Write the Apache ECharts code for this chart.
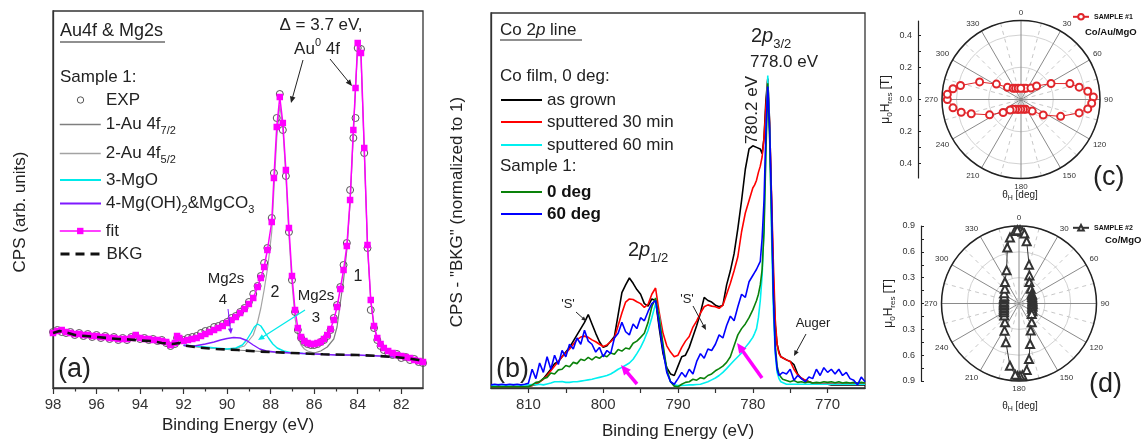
<!DOCTYPE html>
<html><head><meta charset="utf-8">
<script src="https://cdn.jsdelivr.net/npm/echarts@6/dist/echarts.min.js"></script>
<style>html,body{margin:0;padding:0;background:#fff}#c{width:1144px;height:440px}</style>
</head><body><div id="c"></div>
<script>
// ================= DATA =================
// ---- Panel (a): Au4f & Mg2s, binding energy (eV) and CPS (arb. units) ----
const aEnergy = [98.0,97.8,97.6,97.4,97.2,97.0,96.8,96.6,96.4,96.2,96.0,95.8,95.6,95.4,95.2,95.0,94.8,94.6,94.4,94.2,94.0,93.8,93.6,93.4,93.2,93.0,92.8,92.6,92.4,92.3,92.2,92.0,91.8,91.6,91.4,91.2,91.0,90.8,90.6,90.4,90.2,90.0,89.8,89.6,89.4,89.2,89.0,88.8,88.6,88.45,88.3,88.15,87.95,87.85,87.72,87.58,87.44,87.3,87.16,87.02,86.88,86.75,86.6,86.45,86.3,86.15,86.0,85.85,85.7,85.55,85.4,85.25,85.1,84.95,84.8,84.65,84.5,84.35,84.2,84.1,84.0,83.85,83.7,83.55,83.4,83.25,83.1,82.95,82.8,82.6,82.4,82.2,82.0,81.8,81.6,81.4,81.2,81.0];
const aExp = [56,58,56,55,56,53,55,52,54,51,53,50,52,49,51,48,50,48,51,52,49,50,48,49,47,48,45,42,44,50,49,48,50,51,52,55,57,58,61,62,64,66,70,72,76,80,86,94,102,112,125,140,170,215,270,294,258,212,156,108,76,58,50,46,44,43,43,44,46,48,52,58,70,83,101,123,145,198,250,270,340,339,235,140,78,60,48,42,38,35,33,34,30,31,28,29,26,25];
const aFit = [55,57,58,56,55,54,54,53,53,52,52,51,51,50,50,49,49,49,50,53,50,49,49,48,48,47,46,43,45,52,50,47,48,49,50,52,54,56,58,60,62,65,68,71,75,79,84,90,101,110,121,138,166,210,261,291,265,218,160,112,78,60,51,47,45,44,44,45,46,49,53,59,68,81,99,118,142,188,258,300,345,335,240,143,88,62,50,44,40,37,35,33,32,31,30,28,27,26];
const aAu72Energy = [92,90,88,87,86.5,86.0,85.7,85.4,85.1,84.95,84.8,84.65,84.5,84.35,84.2,84.1,84.0,83.85,83.7,83.55,83.4,83.25,83.1,82.95,82.8,82.6,82.4,82.0,81.5,81.0];
const aAu72 = [42.5,38.5,36,35,34.5,35,37,41,49,61,85,108,138,185,255,300,342,332,238,142,87,61,49,43,39,36,34,31,29,26];
const aAu52Energy = [92,91,90,89.6,89.2,88.8,88.6,88.45,88.3,88.12,87.95,87.85,87.72,87.58,87.44,87.3,87.16,87.02,86.88,86.75,86.6,86.45,86.3,86.0,85.5,85.0,84.0,83.0,82.0,81.0];
const aAu52 = [42.5,40,39,39.5,42,53,66,80,98,123,156,198,250,283,260,212,153,105,70,52,43,39,37,35,34,33,32.5,32,30.5,27];
const aMgOEnergy = [92,91,90,89.6,89.3,89.1,88.9,88.75,88.6,88.45,88.3,88.1,87.9,87.7,87.4,87.1,86.5,86.0];
const aMgO = [43,41,39,40,43,48,55,61,64,62,57,50,44,40,37,35.5,34.5,34];
const aMgOHEnergy = [92,91.5,91,90.6,90.3,90,89.7,89.4,89.1,88.8,88.5,88.2,87.8,87,86,85,84,83,82,81];
const aMgOH = [42.5,42,44,46,48,49.5,50.5,50,47.5,43,39,37,36,35,34,33,33,32,30.5,27];
const aBkgEnergy = [98,97.7,97.3,97,96.5,96,95.5,95,94.5,94,93.5,93,92.5,92.2,92,91.3,90.5,89.5,88.6,87,85.6,84,83,82.2,81.7,81.2,81];
const aBkg = [55,57,55,53,52,51,50,49,48.5,47.5,47,45,44,45,42.5,40.5,39,38,36.5,35,33.7,33,32,30.7,29.7,28,27];
const aTickLabels = [98,96,94,92,90,88,86,84,82];
const aMinorTicks = [97,95,93,91,89,87,85,83];

// ---- Panel (b): Co 2p line, CPS - "BKG" normalized to 1 ----
const bEnergy = [815,814.5,814,813.5,813,812.5,812,811.5,811,810.5,810,809.5,809,808.5,808,807.5,807,806.5,806,805.5,805,804.5,804,803.5,803,802.5,802,801.5,801,800.5,800,799.5,799,798.5,798,797.5,797,796.5,796,795.5,795,794.5,794,793.5,793,792.5,792,791.5,791,790.5,790,789.5,789,788.5,788,787.5,787,786.5,786,785.5,785,784.5,784,783.5,783,782.5,782,781.5,781,780.5,780,779.75,779.5,779.25,779,778.75,778.5,778.25,778,777.75,777.5,777.25,777,776.75,776.5,776.25,776,775.5,775,774.5,774,773.5,773,772.5,772,771.5,771,770.5,770,769.5,769,768.5,768,767.5,767,766.5,766,765.5,765];
const bAsGrown = [0.005,0.005,0.005,0.005,0.005,0.005,0.005,0.005,0.005,0.005,0.006,0.008,0.012,0.02,0.03,0.045,0.06,0.078,0.085,0.1,0.115,0.13,0.15,0.17,0.19,0.21,0.235,0.205,0.175,0.148,0.13,0.135,0.15,0.165,0.235,0.305,0.33,0.352,0.335,0.315,0.3,0.27,0.262,0.285,0.28,0.19,0.11,0.065,0.045,0.04,0.07,0.1,0.105,0.13,0.165,0.2,0.24,0.29,0.28,0.275,0.265,0.26,0.265,0.33,0.375,0.43,0.51,0.6,0.7,0.765,0.775,0.772,0.77,0.768,0.765,0.75,0.8,0.92,0.99,0.85,0.6,0.35,0.2,0.14,0.115,0.1,0.095,0.09,0.085,0.075,0.045,0.03,0.025,0.02,0.015,0.012,0.012,0.012,0.012,0.01,0.01,0.01,0.01,0.01,0.01,0.01,0.01,0.01,0.01];
const bSput30 = [0.005,0.005,0.005,0.005,0.005,0.005,0.005,0.005,0.005,0.005,0.006,0.008,0.012,0.02,0.028,0.04,0.055,0.07,0.085,0.1,0.112,0.125,0.14,0.155,0.163,0.166,0.162,0.154,0.148,0.14,0.133,0.138,0.148,0.16,0.2,0.24,0.275,0.285,0.283,0.276,0.27,0.258,0.268,0.3,0.32,0.24,0.175,0.135,0.115,0.1,0.105,0.13,0.15,0.165,0.195,0.215,0.24,0.26,0.266,0.262,0.26,0.255,0.265,0.3,0.335,0.375,0.42,0.5,0.56,0.6,0.64,0.65,0.665,0.69,0.71,0.74,0.8,0.9,0.985,0.84,0.62,0.4,0.22,0.14,0.11,0.1,0.095,0.09,0.085,0.06,0.042,0.032,0.025,0.02,0.016,0.014,0.014,0.014,0.014,0.014,0.014,0.014,0.014,0.014,0.014,0.014,0.014,0.014,0.014];
const bSput60 = [0.01,0.009,0.011,0.01,0.009,0.01,0.011,0.01,0.009,0.01,0.01,0.011,0.01,0.012,0.01,0.013,0.016,0.02,0.02,0.021,0.018,0.018,0.02,0.02,0.022,0.024,0.026,0.028,0.031,0.034,0.037,0.04,0.045,0.052,0.06,0.066,0.073,0.08,0.092,0.11,0.13,0.155,0.185,0.225,0.27,0.23,0.13,0.055,0.02,0.01,0.008,0.008,0.009,0.01,0.01,0.011,0.012,0.016,0.02,0.026,0.032,0.04,0.05,0.062,0.075,0.088,0.1,0.112,0.13,0.145,0.162,0.175,0.19,0.225,0.28,0.36,0.52,0.78,1.0,0.82,0.5,0.25,0.11,0.05,0.03,0.02,0.015,0.012,0.012,0.012,0.012,0.012,0.012,0.012,0.012,0.012,0.012,0.012,0.012,0.012,0.012,0.012,0.012,0.012,0.012,0.012,0.012,0.012,0.012];
const bDeg0 = [0.004,0.004,0.004,0.004,0.004,0.004,0.004,0.004,0.004,0.004,0.004,0.01,0.018,0.02,0.03,0.034,0.048,0.045,0.058,0.06,0.072,0.068,0.082,0.078,0.092,0.088,0.098,0.09,0.1,0.095,0.105,0.1,0.112,0.108,0.123,0.118,0.128,0.125,0.143,0.15,0.162,0.175,0.21,0.26,0.288,0.22,0.14,0.06,0.02,0.006,0.004,0.012,0.018,0.02,0.028,0.025,0.033,0.03,0.04,0.045,0.055,0.062,0.07,0.082,0.1,0.135,0.17,0.19,0.205,0.225,0.25,0.265,0.28,0.3,0.33,0.38,0.5,0.75,0.975,0.8,0.55,0.3,0.14,0.07,0.045,0.035,0.028,0.024,0.02,0.024,0.018,0.02,0.017,0.02,0.016,0.018,0.017,0.02,0.018,0.02,0.017,0.02,0.016,0.018,0.016,0.018,0.016,0.018,0.016];
const bDeg60 = [0.01,0.012,0.01,0.012,0.01,0.012,0.01,0.012,0.01,0.012,0.015,0.06,0.03,0.08,0.05,0.1,0.06,0.105,0.075,0.12,0.1,0.14,0.125,0.16,0.14,0.185,0.15,0.14,0.115,0.13,0.1,0.12,0.11,0.16,0.175,0.21,0.18,0.17,0.205,0.19,0.225,0.215,0.245,0.27,0.28,0.2,0.12,0.05,0.02,0.012,0.03,0.05,0.035,0.06,0.045,0.085,0.11,0.095,0.125,0.12,0.14,0.17,0.16,0.2,0.23,0.215,0.26,0.3,0.29,0.34,0.36,0.37,0.38,0.385,0.405,0.48,0.6,0.82,0.965,0.83,0.6,0.3,0.12,0.06,0.04,0.035,0.05,0.045,0.06,0.025,0.04,0.03,0.02,0.035,0.03,0.06,0.04,0.065,0.05,0.06,0.045,0.06,0.04,0.05,0.03,0.025,0.01,0.035,0.02];
const bTickLabels = [810,800,790,780,770];
const bTicks = [810,805,800,795,790,785,780,775,770];

// ---- Panel (c): SAMPLE #1 Co/Au/MgO, theta_H (deg) and mu0Hres (T) ----
const cTheta = [13,23,41,49,62,72,78,83,88,93,98,103,113,125,136,154,166,181,196,209,219,226,234,244,254,258,263,270,274,279,283,293,302,312,325,334,346,359];
const cHres = [0.071,0.076,0.094,0.128,0.211,0.319,0.369,0.417,0.449,0.439,0.418,0.37,0.267,0.168,0.1,0.068,0.063,0.061,0.064,0.07,0.078,0.094,0.137,0.217,0.321,0.379,0.425,0.457,0.458,0.427,0.385,0.279,0.18,0.113,0.085,0.077,0.072,0.07];
const cTickLabels = [-0.4,-0.2,0,0.2,0.4];
const cTicks = [-0.4,-0.3,-0.2,-0.1,0,0.1,0.2,0.3,0.4];

// ---- Panel (d): SAMPLE #2 Co/MgO ----
const dTheta = [0.8,2.7,4.4,7,14.5,20.3,25.8,38.5,52.7,58,64,70,77.3,82,87.1,92,98.5,104,112.3,120,129.2,145.8,156.6,164.7,169.8,173.4,177.3,179.2,181.1,183,188.3,198.6,208,216.9,230.7,240,245,250.4,256,262.4,267,272.5,278,285,290,296.6,305,316.3,326.7,339.5,348.2,352.2,356.8,358.7];
const dHres = [0.852,0.834,0.816,0.729,0.466,0.348,0.277,0.219,0.186,0.18,0.169,0.165,0.16,0.157,0.156,0.156,0.157,0.16,0.164,0.18,0.191,0.263,0.343,0.488,0.656,0.776,0.834,0.841,0.841,0.83,0.731,0.476,0.357,0.272,0.221,0.202,0.193,0.186,0.18,0.177,0.175,0.175,0.177,0.181,0.185,0.191,0.21,0.237,0.298,0.411,0.664,0.774,0.842,0.852];
const dTickLabels = [-0.9,-0.6,-0.3,0,0.3,0.6,0.9];
const dTicks = [-0.9,-0.75,-0.6,-0.45,-0.3,-0.15,0,0.15,0.3,0.45,0.6,0.75,0.9];

// ================= HELPERS =================
const FF = '"Liberation Sans", Arial, Helvetica, sans-serif';
const pairs = (xs, ys) => xs.map((x, i) => [x, ys[i]]);
function T(x, y, text, o, el) {
  return Object.assign({type: 'text', z: 100, x: x, y: y, silent: true,
    style: Object.assign({text: text, fontFamily: FF, fontSize: 17, fill: '#222', align: 'left', verticalAlign: 'middle'}, o || {})}, el || {});
}
function arrow(x1, y1, x2, y2, color, w, head) {
  const a = Math.atan2(y2 - y1, x2 - x1), s = 0.42;
  const bx = x2 - head * 0.75 * Math.cos(a), by = y2 - head * 0.75 * Math.sin(a);
  return [
    {type: 'line', z: 100, silent: true, shape: {x1: x1, y1: y1, x2: bx, y2: by}, style: {stroke: color, lineWidth: w}},
    {type: 'polygon', z: 100, silent: true, shape: {points: [[x2, y2], [x2 - head * Math.cos(a - s), y2 - head * Math.sin(a - s)], [x2 - head * Math.cos(a + s), y2 - head * Math.sin(a + s)]]}, style: {fill: color}}
  ];
}
function hline(x1, x2, y, w) {
  return {type: 'line', z: 100, silent: true, shape: {x1: x1, y1: y, x2: x2, y2: y}, style: {stroke: '#222', lineWidth: w || 1.2}};
}
const richSub17 = {sub: {fontFamily: FF, fontSize: 11, verticalAlign: 'bottom', padding: [13, 0, 0, 0]}};

// ================= COLORS =================
const MAG = '#ff00ff', CYAN = '#00eaea', PURP = '#7f19ff';

// ================= LEGENDS =================
const legends = [];
function leg(name, left, top, o) {
  legends.push(Object.assign({data: [name], left: left, top: top, padding: 0, itemGap: 0, selectedMode: false,
    itemWidth: 41, itemHeight: 8,
    textStyle: {fontFamily: FF, fontSize: 17, color: '#222', rich: richSub17}}, o || {}));
}
leg('EXP', 59, 100 - 8.5, {itemStyle: {color: '#fff', borderColor: '#555', borderWidth: 1}});
leg('1-Au 4f7/2', 59, 128 - 12, {formatter: () => '1-Au 4f{sub|7/2}', lineStyle: {width: 1.5}, itemStyle: {opacity: 0}});
leg('2-Au 4f5/2', 59, 157 - 12, {formatter: () => '2-Au 4f{sub|5/2}', lineStyle: {width: 1.5}, itemStyle: {opacity: 0}});
leg('3-MgO', 59, 180 - 8.5, {lineStyle: {width: 2}, itemStyle: {opacity: 0}});
leg('4-Mg(OH)2&MgCO3', 59, 207 - 12, {formatter: () => '4-Mg(OH){sub|2}&MgCO{sub|3}', lineStyle: {width: 2}, itemStyle: {opacity: 0}});
leg('fit', 59, 231 - 8.5, {lineStyle: {width: 1.5}});
leg('BKG', 59, 254 - 8.5, {lineStyle: {width: 3, type: [9, 6]}, itemStyle: {opacity: 0}});
const boldTS = {fontFamily: FF, fontSize: 17, color: '#111', fontWeight: 'bold'};
leg('as grown', 500, 100 - 8.5, {lineStyle: {width: 2}, itemStyle: {opacity: 0}});
leg('sputtered 30 min', 500, 122 - 8.5, {lineStyle: {width: 2}, itemStyle: {opacity: 0}});
leg('sputtered 60 min', 500, 145 - 8.5, {lineStyle: {width: 2}, itemStyle: {opacity: 0}});
leg('0 deg', 500, 192 - 8.5, {lineStyle: {width: 2}, itemStyle: {opacity: 0}, textStyle: boldTS});
leg('60 deg', 500, 214 - 8.5, {lineStyle: {width: 2}, itemStyle: {opacity: 0}, textStyle: boldTS});
leg('SAMPLE #1', 1072, 13, {itemWidth: 16, itemHeight: 7, textStyle: {fontFamily: FF, fontSize: 7, fontWeight: 'bold', color: '#111'}});
leg('SAMPLE #2', 1072, 224, {itemWidth: 16, itemHeight: 7, textStyle: {fontFamily: FF, fontSize: 7, fontWeight: 'bold', color: '#111'}});

// ================= AXES =================
const axLine = {show: true, onZero: false, lineStyle: {color: '#333', width: 1.3}};
const noSplit = {show: false};
const xAxes = [
  {gridIndex: 0, type: 'value', inverse: true, min: 81, max: 98, axisLine: axLine,
    axisTick: {show: true, length: 6, customValues: aTickLabels, lineStyle: {color: '#333', width: 1.2}},
    axisLabel: {customValues: aTickLabels, fontSize: 15, color: '#333', margin: 9, fontFamily: FF},
    splitLine: noSplit, name: 'Binding Energy (eV)', nameLocation: 'middle', nameGap: 28,
    nameTextStyle: {fontSize: 17, color: '#222', fontFamily: FF}},
  {gridIndex: 0, type: 'value', inverse: true, min: 81, max: 98, position: 'bottom', axisLine: {show: false},
    axisTick: {show: true, length: 3.5, customValues: aMinorTicks, lineStyle: {color: '#333', width: 1.2}},
    axisLabel: {show: false}, splitLine: noSplit},
  {gridIndex: 1, type: 'value', inverse: true, min: 765, max: 815, axisLine: axLine,
    axisTick: {show: true, length: 5, customValues: bTicks, lineStyle: {color: '#333', width: 1.2}},
    axisLabel: {customValues: bTickLabels, fontSize: 15, color: '#333', margin: 9, fontFamily: FF},
    splitLine: noSplit, name: 'Binding Energy (eV)', nameLocation: 'middle', nameGap: 35,
    nameTextStyle: {fontSize: 17, color: '#222', fontFamily: FF}},
  {gridIndex: 2, type: 'value', show: false},
  {gridIndex: 3, type: 'value', show: false}
];
const muName = '{n|μ}{s|0}{n|H}{s|res}{n| [T]}';
const muRich = {n: {fontFamily: FF, fontSize: 12, color: '#222'}, s: {fontFamily: FF, fontSize: 8, color: '#222', verticalAlign: 'bottom', padding: [9, 0, 0, 0]}};
const yAxes = [
  {gridIndex: 0, type: 'value', min: 0, max: 377, axisLine: axLine, axisTick: {show: false}, axisLabel: {show: false}, splitLine: noSplit},
  {gridIndex: 1, type: 'value', min: 0, max: 1.2, axisLine: axLine, axisTick: {show: false}, axisLabel: {show: false}, splitLine: noSplit},
  {gridIndex: 2, type: 'value', min: -0.49, max: 0.49, axisLine: {show: true, onZero: false, lineStyle: {color: '#222', width: 1.2}},
    axisTick: {show: true, inside: true, length: 3, customValues: cTicks, lineStyle: {color: '#222'}},
    axisLabel: {customValues: cTickLabels, formatter: v => Math.abs(v).toFixed(1), fontSize: 9, color: '#333', margin: 6, fontFamily: FF},
    splitLine: noSplit, name: muName, nameLocation: 'middle', nameRotate: 90, nameGap: 24, nameTextStyle: {rich: muRich}},
  {gridIndex: 3, type: 'value', min: -0.9, max: 0.9, axisLine: {show: true, onZero: false, lineStyle: {color: '#222', width: 1.2}},
    axisTick: {show: true, inside: true, length: 3, customValues: dTicks, lineStyle: {color: '#222'}},
    axisLabel: {customValues: dTickLabels, formatter: v => Math.abs(v).toFixed(1), fontSize: 9, color: '#333', margin: 6, fontFamily: FF},
    splitLine: noSplit, name: muName, nameLocation: 'middle', nameRotate: 90, nameGap: 24, nameTextStyle: {rich: muRich}}
];
function angleAx(idx) {
  return {polarIndex: idx, type: 'value', min: 0, max: 360, interval: 30, startAngle: 90, clockwise: true,
    axisLine: {show: true, lineStyle: {color: '#222', width: 1.5}}, axisTick: {show: false},
    axisLabel: {fontSize: 8, color: '#333', margin: 4, fontFamily: FF, formatter: v => (v === 360 ? '' : String(v))},
    splitLine: {show: true, lineStyle: {color: '#8a8a8a', width: 1}},
    minorTick: {show: false, splitNumber: 2},
    minorSplitLine: {show: true, lineStyle: {color: '#c8c8c8', width: 1, type: [4, 4]}}};
}
function radiusAx(idx, max, interval) {
  return {polarIndex: idx, type: 'value', min: 0, max: max, interval: interval,
    axisLine: {show: false}, axisTick: {show: false}, axisLabel: {show: false},
    splitLine: {show: true, lineStyle: {color: '#d2d2d2', width: 1}}};
}

// ================= SERIES =================
const lineA = (name, xs, ys, color, w, extra) => Object.assign({
  name: name, type: 'line', xAxisIndex: 0, yAxisIndex: 0, data: pairs(xs, ys), symbol: 'none',
  lineStyle: {color: color, width: w}, itemStyle: {color: color}, silent: true}, extra || {});
const lineB = (name, ys, color) => ({
  name: name, type: 'line', xAxisIndex: 2, yAxisIndex: 1, data: pairs(bEnergy, ys), symbol: 'none',
  lineStyle: {color: color, width: 1.6}, itemStyle: {color: color}, silent: true});
const series = [
  lineA('1-Au 4f7/2', aAu72Energy, aAu72, '#7f7f7f', 1.2, {z: 2}),
  lineA('2-Au 4f5/2', aAu52Energy, aAu52, '#a3a3a3', 1.2, {z: 2}),
  lineA('3-MgO', aMgOEnergy, aMgO, CYAN, 1.4, {z: 2}),
  lineA('4-Mg(OH)2&MgCO3', aMgOHEnergy, aMgOH, PURP, 1.4, {z: 2}),
  lineA('EXP', aEnergy, aExp, '#555', 1, {z: 3, symbol: 'circle', symbolSize: 7, showAllSymbol: true,
    lineStyle: {opacity: 0, color: '#555'}, itemStyle: {color: 'rgba(255,255,255,0)', borderColor: '#555', borderWidth: 1}}),
  lineA('fit', aEnergy, aFit, MAG, 1.5, {z: 4, symbol: 'rect', symbolSize: 6.5, showAllSymbol: true}),
  lineA('BKG', aBkgEnergy, aBkg, '#111', 2.6, {z: 5, lineStyle: {color: '#111', width: 2.6, type: [9, 6]}}),
  lineB('as grown', bAsGrown, '#000000'),
  lineB('sputtered 30 min', bSput30, '#ff0000'),
  lineB('sputtered 60 min', bSput60, '#00f0f0'),
  lineB('0 deg', bDeg0, '#0a820a'),
  lineB('60 deg', bDeg60, '#0000ff'),
  {name: 'SAMPLE #1', type: 'line', coordinateSystem: 'polar', polarIndex: 0, z: 5, silent: true,
    data: cHres.map((r, i) => [r, cTheta[i]]), symbol: 'emptyCircle', symbolSize: 7, showAllSymbol: true,
    lineStyle: {color: '#e0262b', width: 1}, itemStyle: {color: '#e0262b', borderWidth: 1.2}},
  {name: 'SAMPLE #2', type: 'line', coordinateSystem: 'polar', polarIndex: 1, z: 5, silent: true,
    data: dHres.map((r, i) => [r, dTheta[i]]), symbol: 'emptyTriangle', symbolSize: 8, showAllSymbol: true,
    lineStyle: {color: '#333', width: 1}, itemStyle: {color: '#333', borderWidth: 1}}
];

// ================= ANNOTATIONS =================
const supRich = {n: {fontFamily: FF, fontSize: 17, fill: '#222'}, sup: {fontFamily: FF, fontSize: 11, verticalAlign: 'top', padding: [0, 0, 12, 0]}};
const pRich20 = {n: {fontFamily: FF, fontSize: 20}, i: {fontFamily: FF, fontSize: 20, fontStyle: 'italic'},
  sub: {fontFamily: FF, fontSize: 13, verticalAlign: 'bottom', padding: [16, 0, 0, 0]}};
let graphic = [];
// axis titles of (a) and (b)
graphic.push(T(20, 212, 'CPS (arb. units)', {align: 'center'}, {rotation: Math.PI / 2}));
graphic.push(T(457, 212, 'CPS - "BKG" (normalized to 1)', {align: 'center'}, {rotation: Math.PI / 2}));
// panel (a)
graphic.push(T(60, 31, 'Au4f & Mg2s', {fontSize: 18}), hline(60, 165, 42));
graphic.push(T(60, 77, 'Sample 1:'));
graphic.push(T(321, 25, 'Δ = 3.7 eV,', {align: 'center'}));
graphic.push(T(317, 49, '{n|Au}{sup|0}{n| 4f}', {align: 'center', rich: supRich}));
graphic = graphic.concat(arrow(303, 60, 291, 103, '#222', 1, 7), arrow(330, 59, 352, 86, '#222', 1, 7));
graphic.push(T(358, 277, '1', {align: 'center', fontSize: 16}), T(275, 293, '2', {align: 'center', fontSize: 16}));
graphic.push(T(226, 279, 'Mg2s', {align: 'center', fontSize: 15}), T(223, 300, '4', {align: 'center', fontSize: 15}));
graphic = graphic.concat(arrow(228, 309, 231, 334, PURP, 1, 6));
graphic.push(T(316, 296, 'Mg2s', {align: 'center', fontSize: 15}), T(316, 318, '3', {align: 'center', fontSize: 15}));
graphic = graphic.concat(arrow(305, 310, 258, 340, CYAN, 1.2, 7));
graphic.push(T(58, 370, '(a)', {fontSize: 27}));
// panel (b)
graphic.push(T(500, 30, 'Co 2{i|p} line', {rich: {i: {fontFamily: FF, fontSize: 17, fontStyle: 'italic'}}}), hline(500, 582, 40));
graphic.push(T(500, 76, 'Co film, 0 deg:'));
graphic.push(T(500, 166, 'Sample 1:'));
graphic.push(T(751, 36, '{n|2}{i|p}{sub|3/2}', {rich: pRich20}));
graphic.push(T(750, 62, '778.0 eV'));
graphic.push(T(752, 110, '780.2 eV', {align: 'center'}, {rotation: Math.PI / 2}));
graphic.push(T(628, 250, '{n|2}{i|p}{sub|1/2}', {rich: pRich20}));
graphic.push(T(568, 304, "'S'", {align: 'center', fontSize: 13}));
graphic = graphic.concat(arrow(576, 312, 586, 321, '#222', 1, 5));
graphic.push(T(687, 299, "'S'", {align: 'center', fontSize: 13}));
graphic = graphic.concat(arrow(693, 306, 706, 330, '#222', 1, 6));
graphic.push(T(813, 323, 'Auger', {align: 'center', fontSize: 13}));
graphic = graphic.concat(arrow(806, 334, 794, 356, '#222', 1, 6));
graphic = graphic.concat(arrow(637, 384, 621, 365, MAG, 3.5, 11), arrow(762, 378, 737, 343, MAG, 3.5, 11));
graphic.push(T(496, 370, '(b)', {fontSize: 27}));
// panels (c), (d)
const thRich = {n: {fontFamily: FF, fontSize: 10, fill: '#222'}, s: {fontFamily: FF, fontSize: 7, verticalAlign: 'bottom', padding: [7, 0, 0, 0]}};
graphic.push(T(1085, 32, 'Co/Au/MgO', {fontSize: 9.5, fontWeight: 'bold', fill: '#111'}));
graphic.push(T(1020, 195, '{n|θ}{s|H}{n| [deg]}', {align: 'center', rich: thRich}));
graphic.push(T(1093, 178, '(c)', {fontSize: 27}));
graphic.push(T(1105, 240, 'Co/MgO', {fontSize: 9.5, fontWeight: 'bold', fill: '#111'}));
graphic.push(T(1020, 406, '{n|θ}{s|H}{n| [deg]}', {align: 'center', rich: thRich}));
graphic.push(T(1089, 385, '(d)', {fontSize: 27}));

// ================= CHART =================
const chart = echarts.init(document.getElementById('c'), null, {renderer: 'canvas'});
chart.setOption({
  animation: false,
  backgroundColor: '#ffffff',
  textStyle: {fontFamily: FF},
  grid: [
    {left: 53, top: 11, width: 370, height: 377, show: true, borderColor: '#333', borderWidth: 1.3, outerBoundsMode: 'none'},
    {left: 491, top: 13, width: 374, height: 375, show: true, borderColor: '#333', borderWidth: 1.3, outerBoundsMode: 'none'},
    {left: 918, top: 21, width: 1, height: 157, outerBoundsMode: 'none'},
    {left: 921, top: 226, width: 1, height: 155, outerBoundsMode: 'none'}
  ],
  polar: [{center: [1021, 99.5], radius: 79}, {center: [1019, 303.5], radius: 77.5}],
  angleAxis: [angleAx(0), angleAx(1)],
  radiusAxis: [radiusAx(0, 0.49, 0.2), radiusAx(1, 0.9, 0.3)],
  xAxis: xAxes,
  yAxis: yAxes,
  legend: legends,
  series: series,
  graphic: graphic
});
</script>
</body></html>
